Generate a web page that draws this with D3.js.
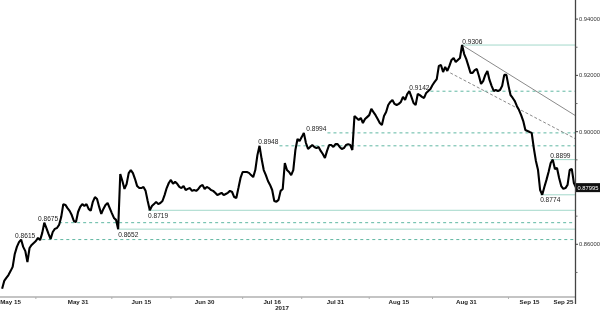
<!DOCTYPE html>
<html>
<head>
<meta charset="utf-8">
<script src="https://cdn.jsdelivr.net/npm/d3@7"></script>
<style>
  body { margin: 0; background: #fff; }
  svg { will-change: transform; }
  text { font-family: "Liberation Sans", Arial, sans-serif; }
</style>
</head>
<body>
<div id="chart"></div>
<script>
// EUR/GBP, 12-hourly samples starting 13 May 2017
var seriesStart = "2017-05-13T00:00Z";
var stepHours = 12;
var rate = [
  0.8440, 0.8468, 0.8479, 0.8489, 0.8503, 0.8518, 0.8564, 0.8589, 0.8606, 0.8615,
  0.8589, 0.8574, 0.8535, 0.8585, 0.8596, 0.8603, 0.8610, 0.8621, 0.8613, 0.8638,
  0.8675, 0.8656, 0.8635, 0.8617, 0.8642, 0.8653, 0.8656, 0.8667, 0.8695, 0.8741,
  0.8738, 0.8727, 0.8717, 0.8702, 0.8681, 0.8677, 0.8713, 0.8731, 0.8741, 0.8734,
  0.8741, 0.8724, 0.8717, 0.8749, 0.8766, 0.8759, 0.8731, 0.8706, 0.8724, 0.8738,
  0.8745, 0.8727, 0.8709, 0.8692, 0.8685, 0.8652, 0.8848, 0.8823, 0.8795, 0.8812,
  0.8851, 0.8862, 0.8851, 0.8830, 0.8805, 0.8798, 0.8798, 0.8802, 0.8788, 0.8752,
  0.8719, 0.8734, 0.8741, 0.8749, 0.8741, 0.8745, 0.8752, 0.8773, 0.8798, 0.8816,
  0.8827, 0.8813, 0.8820, 0.8813, 0.8802, 0.8798, 0.8805, 0.8791, 0.8795, 0.8798,
  0.8788, 0.8791, 0.8788, 0.8795, 0.8805, 0.8809, 0.8795, 0.8802, 0.8798, 0.8791,
  0.8788, 0.8781, 0.8773, 0.8777, 0.8781, 0.8773, 0.8777, 0.8781, 0.8788, 0.8784,
  0.8766, 0.8763, 0.8798, 0.8834, 0.8855, 0.8855, 0.8855, 0.8852, 0.8844, 0.8837,
  0.8862, 0.8915, 0.8948, 0.8901, 0.8862, 0.8844, 0.8823, 0.8809, 0.8791, 0.8752,
  0.8749, 0.8756, 0.8788, 0.8795, 0.8887, 0.8862, 0.8855, 0.8844, 0.8862,
  0.8933, 0.8972, 0.8965, 0.8979, 0.8994, 0.8958, 0.8937, 0.8944, 0.8951, 0.8944,
  0.8940, 0.8944, 0.8930, 0.8919, 0.8905, 0.8930, 0.8951, 0.8951, 0.8944, 0.8954,
  0.8954, 0.8944, 0.8937, 0.8940, 0.8951, 0.8954, 0.8951, 0.8933, 0.9054, 0.9047,
  0.9040, 0.9047, 0.9029, 0.9043, 0.9050, 0.9057, 0.9079, 0.9068, 0.9057, 0.9043,
  0.9029, 0.9022, 0.9054, 0.9068, 0.9093, 0.9104, 0.9111, 0.9097, 0.9093, 0.9097,
  0.9104, 0.9122, 0.9111, 0.9132, 0.9142, 0.9122, 0.9100, 0.9093, 0.9132, 0.9128,
  0.9122, 0.9118, 0.9136, 0.9143, 0.9150, 0.9164, 0.9175, 0.9185, 0.9232, 0.9235,
  0.9210, 0.9228, 0.9214, 0.9232, 0.9253, 0.9260, 0.9246, 0.9253, 0.9260, 0.9306,
  0.9274, 0.9256, 0.9232, 0.9207, 0.9207, 0.9217, 0.9221, 0.9196, 0.9168, 0.9178,
  0.9200, 0.9214, 0.9182, 0.9161, 0.9143, 0.9146, 0.9143, 0.9146, 0.9161, 0.9200,
  0.9200, 0.9161, 0.9128, 0.9118, 0.9107, 0.9089, 0.9075, 0.9057, 0.9036, 0.9004,
  0.9001, 0.8997, 0.8994, 0.8940, 0.8894, 0.8862, 0.8791, 0.8774, 0.8802, 0.8827,
  0.8855, 0.8887, 0.8899, 0.8866, 0.8869, 0.8834, 0.8805, 0.8795, 0.8798, 0.8809,
  0.8862, 0.8866, 0.8816, 0.87995
];
var lastPrice = 0.87995;

var dateTicks = ["2017-05-15", "2017-05-31", "2017-06-15", "2017-06-30", "2017-07-16",
                 "2017-07-31", "2017-08-15", "2017-08-31", "2017-09-15", "2017-09-25"];
var dateLabels = ["May 15", "May 31", "Jun 15", "Jun 30", "Jul 16",
                  "Jul 31", "Aug 15", "Aug 31", "Sep 15", "Sep 25"];
var minorDates = ["2017-05-21", "2017-06-08", "2017-06-22", "2017-07-09",
                  "2017-07-23", "2017-08-08", "2017-08-23", "2017-09-10"];
var yearLabel = "2017";
var priceTicks = [0.94, 0.92, 0.90, 0.88, 0.86];
var priceMinor = [0.93, 0.91, 0.89, 0.87, 0.85];

// swing highs and lows with the date they were marked
var highs = [
  [0.8615, "2017-05-16T02:00Z"],
  [0.8675, "2017-05-21T12:00Z"],
  [0.8948, "2017-07-12T17:00Z"],
  [0.8994, "2017-07-24T02:00Z"],
  [0.9142, "2017-08-17T12:00Z"],
  [0.9306, "2017-08-30T01:00Z"],
  [0.8899, "2017-09-19T22:00Z"]
];
var lows = [
  [0.8652, "2017-06-09T12:00Z"],
  [0.8719, "2017-06-16T14:00Z"],
  [0.8774, "2017-09-17T12:00Z"]
];
var resistance = [["2017-08-30T00:00Z", 0.9306], ["2017-09-26T00:00Z", 0.9054]];
var channel = [["2017-08-27T05:00Z", 0.9207], ["2017-09-26T00:00Z", 0.8972]];

var width = 600, height = 311;
var plotRight = 575.5, plotBottom = 297;

var svg = d3.select('#chart')
  .append('svg')
  .attr('width', width)
  .attr('height', height);

var t0 = new Date(seriesStart);
var data = rate.map(function(v, i) {
  return { date: d3.utcHour.offset(t0, i * stepHours), value: v };
});

var x = d3.scaleUtc()
  .domain([new Date("2017-05-12T12:00Z"), new Date("2017-09-26T00:00Z")])
  .range([0, 576]);
var y = d3.scaleLinear()
  .domain([0.8411, 0.9466])
  .range([plotBottom, 0]);

// level lines
var levels = svg.append('g');
function drawLevel(d, isHigh) {
  var v = d[0], when = new Date(d[1]);
  var later = data.filter(function(p) { return p.date > when; });
  var broken = isHigh
    ? later.some(function(p) { return p.value > v; })
    : later.some(function(p) { return p.value < v; });
  var label = levels.append('text')
    .attr('x', x(when))
    .attr('y', isHigh ? y(v) - 1.5 : y(v) + 7.5)
    .attr('font-size', '6.6px')
    .attr('fill', '#222')
    .text(d3.format('.4f')(v));
  var x1 = broken ? x(when) + label.node().getComputedTextLength() + 1 : x(when);
  levels.append('line')
    .attr('x1', x1).attr('x2', plotRight)
    .attr('y1', y(v)).attr('y2', y(v))
    .attr('stroke', broken ? '#5fb7a2' : '#a3d8ca')
    .attr('stroke-width', 1)
    .attr('stroke-dasharray', broken ? '3,3' : null);
}
highs.forEach(function(d) { drawLevel(d, true); });
lows.forEach(function(d) { drawLevel(d, false); });

// trend lines
var trendLine = d3.line()
  .x(function(d) { return x(new Date(d[0])); })
  .y(function(d) { return y(d[1]); });
svg.append('path')
  .attr('d', trendLine(resistance))
  .attr('fill', 'none')
  .attr('stroke', '#8a8a8a')
  .attr('stroke-width', 1);
svg.append('path')
  .attr('d', trendLine(channel))
  .attr('fill', 'none')
  .attr('stroke', '#8a8a8a')
  .attr('stroke-width', 1)
  .attr('stroke-dasharray', '3,2');

// price line
var line = d3.line()
  .x(function(d) { return x(d.date); })
  .y(function(d) { return y(d.value); });
svg.append('path')
  .datum(data)
  .attr('d', line)
  .attr('fill', 'none')
  .attr('stroke', '#000')
  .attr('stroke-width', 2.1)
  .attr('stroke-linejoin', 'bevel');

// bottom axis
svg.append('line')
  .attr('x1', 0).attr('x2', plotRight)
  .attr('y1', plotBottom).attr('y2', plotBottom)
  .attr('stroke', '#b0b0b0')
  .attr('stroke-width', 1.5);
svg.append('g')
  .selectAll('line')
  .data(minorDates)
  .join('line')
  .attr('x1', function(d) { return x(new Date(d)); })
  .attr('x2', function(d) { return x(new Date(d)); })
  .attr('y1', plotBottom)
  .attr('y2', plotBottom + 2)
  .attr('stroke', '#b0b0b0');

var dateText = svg.append('g')
  .selectAll('text')
  .data(dateTicks)
  .join('text')
  .attr('x', function(d) { return x(new Date(d)); })
  .attr('y', plotBottom + 6.5)
  .attr('text-anchor', 'middle')
  .attr('font-size', '6.2px')
  .attr('font-weight', 'bold')
  .attr('fill', '#222')
  .text(function(d, i) { return dateLabels[i]; });
// keep the last label clear of the price axis
dateText.each(function() {
  var w = this.getComputedTextLength();
  var cx = +this.getAttribute('x');
  if (cx + w / 2 > plotRight - 2) {
    d3.select(this).attr('text-anchor', 'end').attr('x', plotRight - 2);
  }
});
svg.append('text')
  .attr('x', x(new Date(dateTicks[4])) + 3)
  .attr('y', plotBottom + 12.5)
  .attr('font-size', '6.2px')
  .attr('font-weight', 'bold')
  .attr('fill', '#222')
  .text(yearLabel);

// right price axis
svg.append('line')
  .attr('x1', plotRight).attr('x2', plotRight)
  .attr('y1', 0).attr('y2', 304)
  .attr('stroke', '#444')
  .attr('stroke-width', 1.3);
var yAxis = svg.append('g')
  .attr('transform', 'translate(' + plotRight + ',0)')
  .call(d3.axisRight(y).tickValues(priceTicks).tickSize(2.5).tickPadding(1)
    .tickFormat(d3.format('.5f')));
yAxis.select('.domain').remove();
yAxis.selectAll('line').attr('stroke', '#444');
yAxis.selectAll('text')
  .attr('font-size', '5.8px')
  .attr('fill', '#333')
  .attr('font-family', '"Liberation Sans", Arial, sans-serif');
var yMinor = svg.append('g')
  .attr('transform', 'translate(' + plotRight + ',0)')
  .call(d3.axisRight(y).tickValues(priceMinor).tickSize(2).tickFormat(''));
yMinor.select('.domain').remove();
yMinor.selectAll('line').attr('stroke', '#666');

// last price tag
var tag = svg.append('g')
  .attr('transform', 'translate(' + (plotRight + 0.5) + ',' + y(lastPrice) + ')');
tag.append('rect')
  .attr('x', 0).attr('y', -4.5)
  .attr('width', 24).attr('height', 9)
  .attr('fill', '#111');
tag.append('text')
  .attr('x', 1.5).attr('y', 2.2)
  .attr('font-size', '5.8px')
  .attr('fill', '#fff')
  .text(d3.format('.5f')(lastPrice));
</script>
</body>
</html>
